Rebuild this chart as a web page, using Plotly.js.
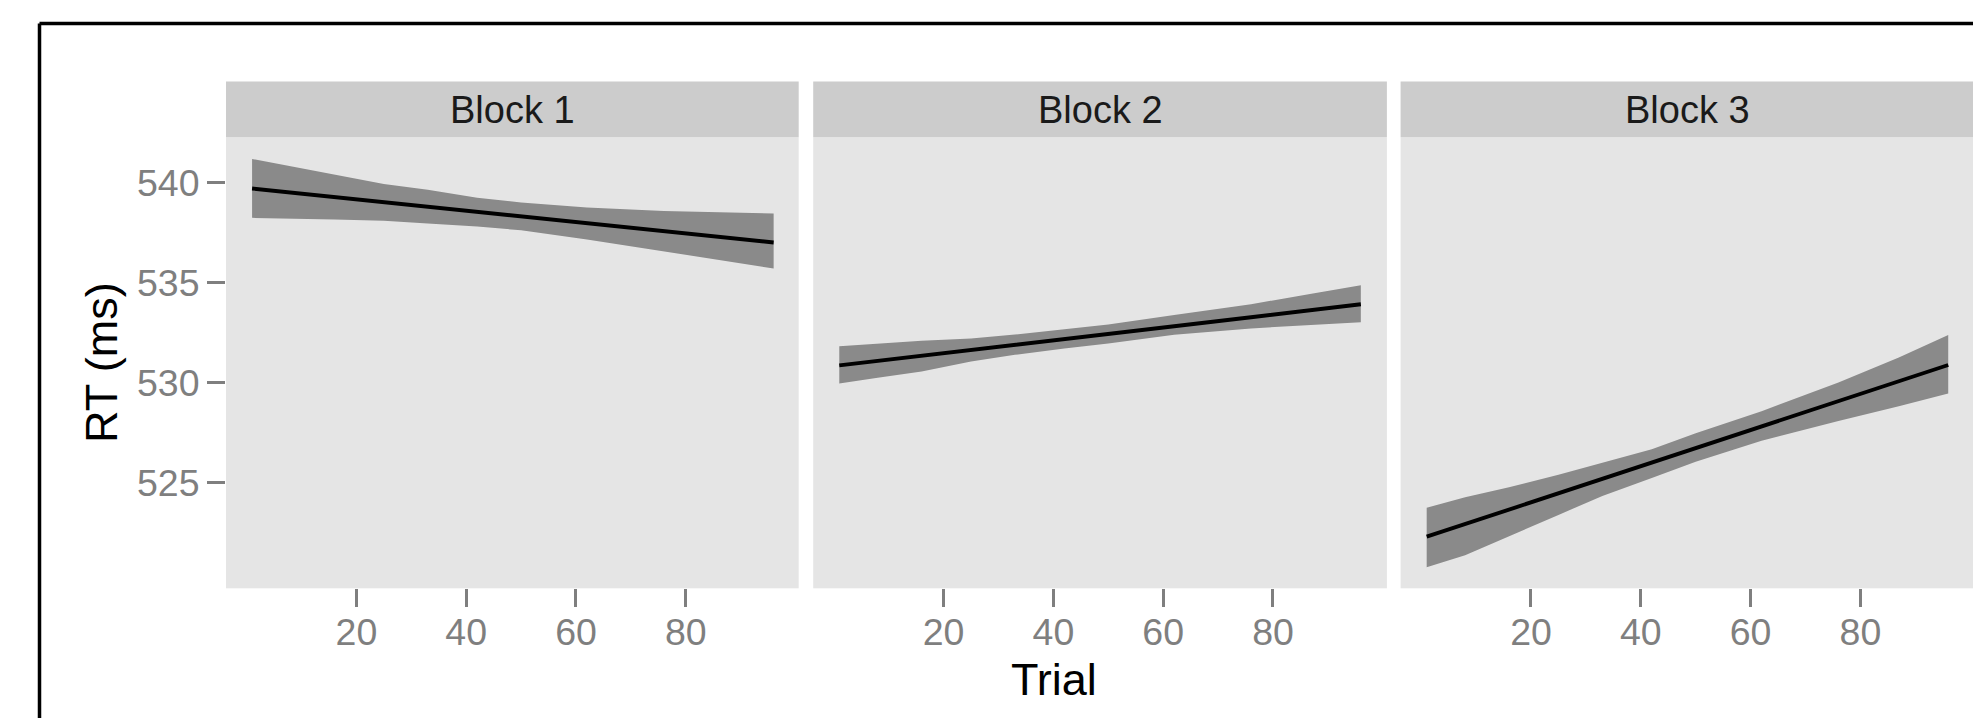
<!DOCTYPE html>
<html>
<head>
<meta charset="utf-8">
<script src="https://cdn.plot.ly/plotly-3.0.1.min.js"></script>
<style>
  html, body { margin: 0; padding: 0; background: #ffffff; }
  #chart { width: 1973px; height: 718px; }
</style>
</head>
<body>
<div id="chart"></div>
<script>
// ---- data ----
const blocks = ["Block 1", "Block 2", "Block 3"];
const trial = [1, 8, 16, 25, 33, 42, 50, 62, 76, 87, 96];

const fit1   = [539.72, 539.52, 539.29, 539.04, 538.81, 538.55, 538.33, 537.99, 537.59, 537.28, 537.02];
const upper1 = [541.20, 540.83, 540.39, 539.94, 539.66, 539.25, 539.02, 538.77, 538.59, 538.52, 538.47];
const lower1 = [538.25, 538.21, 538.17, 538.10, 537.97, 537.82, 537.63, 537.17, 536.57, 536.10, 535.72];

const fit2   = [530.87, 531.10, 531.35, 531.64, 531.90, 532.19, 532.45, 532.83, 533.28, 533.64, 533.93];
const upper2 = [531.83, 531.96, 532.10, 532.22, 532.41, 532.68, 532.92, 533.39, 533.93, 534.45, 534.88];
const lower2 = [529.97, 530.25, 530.56, 531.06, 531.40, 531.72, 531.96, 532.40, 532.72, 532.89, 533.03];

const fit3   = [522.30, 522.93, 523.66, 524.47, 525.19, 526.01, 526.73, 527.81, 529.08, 530.07, 530.89];
const upper3 = [523.75, 524.28, 524.78, 525.40, 526.00, 526.67, 527.48, 528.58, 530.02, 531.26, 532.39];
const lower3 = [520.77, 521.37, 522.32, 523.39, 524.34, 525.24, 526.05, 527.10, 528.09, 528.83, 529.47];

const xTickVals = [20, 40, 60, 80];
const yTickVals = [525, 530, 535, 540];
const xTitle = "Trial";
const yTitle = "RT (ms)";

// ---- layout geometry (pixels of the 1973x718 canvas) ----
const W = 1973, H = 718;
const panelPx = [[226, 798.7], [813.2, 1386.9], [1400.6, 1973]];
const pxPerUnit = 5.49;
const xMin = -3.75;
const panelTop = 137.3, panelBottom = 588.3, stripTop = 81.5;
const yRange = [519.72, 542.28];

const px = v => v / W;
const py = v => 1 - v / H;

const fits = [fit1, fit2, fit3];
const uppers = [upper1, upper2, upper3];
const lowers = [lower1, lower2, lower3];

const traces = [];
const axisNames = ["x", "x2", "x3"];
for (let i = 0; i < 3; i++) {
  const bandX = trial.concat(trial.slice().reverse());
  const bandY = uppers[i].concat(lowers[i].slice().reverse());
  traces.push({
    type: "scatter", mode: "lines", x: bandX, y: bandY,
    xaxis: axisNames[i], yaxis: "y",
    fill: "toself", fillcolor: "#8a8a8a",
    line: { width: 0, color: "#8a8a8a" },
    hoverinfo: "skip", showlegend: false
  });
  traces.push({
    type: "scatter", mode: "lines", x: trial, y: fits[i],
    xaxis: axisNames[i], yaxis: "y",
    line: { color: "#000000", width: 3.9 },
    showlegend: false, name: blocks[i]
  });
}

const tickFont = { family: "Liberation Sans, Arial, Helvetica, sans-serif", size: 37.5, color: "#7f7f7f" };

function xAxis(i) {
  const [a, b] = panelPx[i];
  return {
    domain: [px(a), Math.min(1, px(b))],
    range: [xMin, xMin + (b - a) / pxPerUnit],
    anchor: "y",
    tickmode: "array", tickvals: xTickVals, ticktext: xTickVals.map(String),
    ticks: "outside", ticklen: 18, tickwidth: 3, tickcolor: "#7f7f7f",
    ticklabelstandoff: -7,
    tickfont: tickFont,
    showgrid: false, zeroline: false, showline: false, fixedrange: true
  };
}

const shapes = [];
const annotations = [];
for (let i = 0; i < 3; i++) {
  const [a, b] = panelPx[i];
  shapes.push({
    type: "rect", xref: "paper", yref: "paper",
    x0: px(a), x1: Math.min(1.01, px(b)), y0: py(panelTop), y1: py(stripTop),
    fillcolor: "#cccccc", line: { width: 0 }, layer: "below"
  });
  annotations.push({
    text: blocks[i], xref: "paper", yref: "paper",
    x: px((a + a + 573.7) / 2), y: py((stripTop + panelTop) / 2 + 1),
    xanchor: "center", yanchor: "middle", showarrow: false,
    font: { family: "Liberation Sans, Arial, Helvetica, sans-serif", size: 38, color: "#1a1a1a" }
  });
}
// outer black frame (top and left edges visible)
shapes.push({ type: "line", xref: "paper", yref: "paper",
  x0: px(39.5), x1: 1.01, y0: py(23.5), y1: py(23.5), line: { color: "#000", width: 3.5 } });
shapes.push({ type: "line", xref: "paper", yref: "paper",
  x0: px(39.5), x1: px(39.5), y0: py(23.5), y1: -0.01, line: { color: "#000", width: 3.5 } });

annotations.push({
  text: xTitle, xref: "paper", yref: "paper", x: px(1054), y: py(679),
  xanchor: "center", yanchor: "middle", showarrow: false,
  font: { family: "Liberation Sans, Arial, Helvetica, sans-serif", size: 45, color: "#000" }
});
annotations.push({
  text: yTitle, xref: "paper", yref: "paper", x: px(101), y: py(363),
  xanchor: "center", yanchor: "middle", showarrow: false, textangle: -90,
  font: { family: "Liberation Sans, Arial, Helvetica, sans-serif", size: 45, color: "#000" }
});

const layout = {
  width: W, height: H,
  margin: { l: 0, r: 0, t: 0, b: 0, pad: 0 },
  paper_bgcolor: "#ffffff", plot_bgcolor: "#e5e5e5",
  showlegend: false,
  xaxis: xAxis(0), xaxis2: xAxis(1), xaxis3: xAxis(2),
  yaxis: {
    domain: [py(panelBottom), py(panelTop)],
    range: yRange, anchor: "x",
    tickmode: "array", tickvals: yTickVals, ticktext: yTickVals.map(String),
    ticks: "outside", ticklen: 18, tickwidth: 3, tickcolor: "#7f7f7f",
    tickfont: tickFont,
    showgrid: false, zeroline: false, showline: false, fixedrange: true
  },
  shapes: shapes,
  annotations: annotations
};

Plotly.newPlot("chart", traces, layout, { displayModeBar: false, staticPlot: true });
</script>
</body>
</html>
